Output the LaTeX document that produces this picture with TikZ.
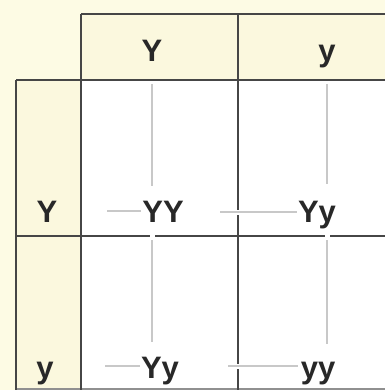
\documentclass[tikz,border=0pt]{standalone}
\usepackage{fontspec}
\setmainfont{Liberation Sans}
\definecolor{cream}{RGB}{253,251,228}
\definecolor{headcream}{RGB}{251,248,222}
\definecolor{gridc}{RGB}{70,70,70}
\definecolor{txtc}{RGB}{40,40,40}
\definecolor{guide}{RGB}{200,200,200}
\begin{document}
\begin{tikzpicture}[x=1pt,y=-1pt,
  grid/.style={draw=gridc,line width=2pt},
  lbl/.style={anchor=base,inner sep=0pt,text=txtc,font=\fontsize{31}{31}\selectfont\bfseries},
  guideline/.style={draw=guide,line width=2pt},
  halo/.style={draw=white,line width=5pt}]
\useasboundingbox (0,0) rectangle (385,390);
% background
\fill[cream] (0,0) rectangle (385,390);
\fill[headcream] (81,14) rectangle (385,80);
\fill[headcream] (16,80) rectangle (81,390);
\fill[white] (81,80) rectangle (385,390);
% grid
\draw[grid] (81,14) -- (385,14);
\draw[grid] (16,80) -- (385,80);
\draw[grid] (16,236) -- (385,236);
\draw[grid,draw=gridc!60] (16,389) -- (385,389);
\draw[grid] (16,80) -- (16,390);
\draw[grid] (81,14) -- (81,390);
\draw[grid] (238,14) -- (238,390);
% labels
\node[lbl] (hY) at (152,62) {Y};
\node[lbl] (hy) at (327,62) {y};
\node[lbl] (lY) at (47,222) {Y};
\node[lbl] (ly) at (45,378) {y};
\node[lbl] (c11) at (163,222) {YY};
\node[lbl] (c12) at (317,222) {Yy};
\node[lbl] (c21) at (160,378) {Yy};
\node[lbl] (c22) at (318,378) {yy};
% guide coordinates
\coordinate (v1s) at (152,84);  \coordinate (v1e) at (152,186);
\coordinate (v2s) at (327,84);  \coordinate (v2e) at (327,184);
\coordinate (v3s) at (152,240); \coordinate (v3e) at (152,342);
\coordinate (v4s) at (327,240); \coordinate (v4e) at (327,344);
\coordinate (h1s) at (107,211); \coordinate (h1e) at (141,211);
\coordinate (h2s) at (220,212); \coordinate (h2e) at (297,212);
\coordinate (h3s) at (105,366); \coordinate (h3e) at (140,366);
\coordinate (h4s) at (228,366); \coordinate (h4e) at (298,366);
% gaps in the grid where the guides pass
\draw[halo] (152,232) -- (152,240);
\draw[halo] (327,232) -- (327,240);
\draw[halo] (234,212) -- (242,212);
\draw[halo] (234,366) -- (242,366);
% guides
\draw[guideline] (v1s) -- (v1e);
\draw[guideline] (v2s) -- (v2e);
\draw[guideline] (v3s) -- (v3e);
\draw[guideline] (v4s) -- (v4e);
\draw[guideline] (h1s) -- (h1e);
\draw[guideline] (h2s) -- (h2e);
\draw[guideline] (h3s) -- (h3e);
\draw[guideline] (h4s) -- (h4e);
\end{tikzpicture}
\end{document}
